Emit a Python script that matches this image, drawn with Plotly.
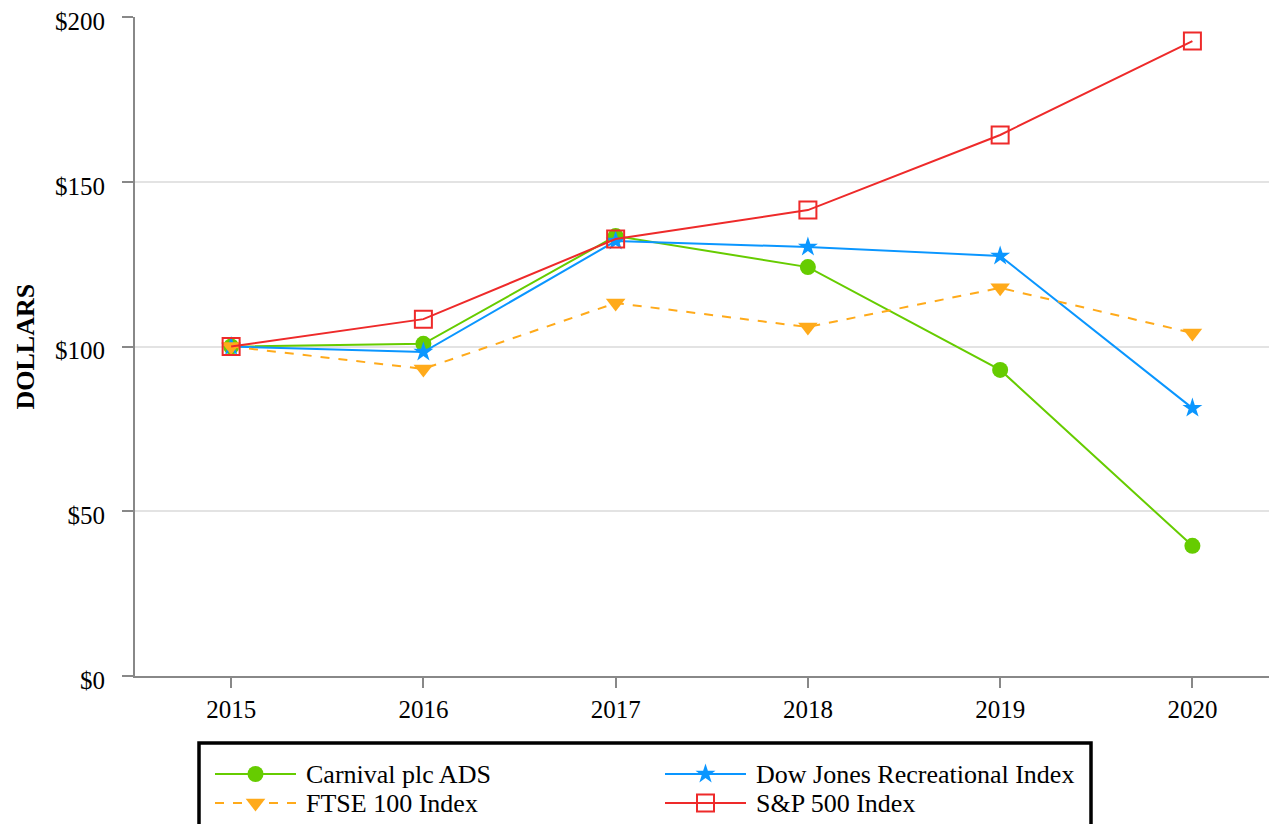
import plotly.graph_objects as go

years = ["2015", "2016", "2017", "2018", "2019", "2020"]
carnival = [100, 100.8, 133.5, 124.1, 92.9, 39.5]
dow_jones = [100, 98.3, 132.0, 130.2, 127.5, 81.3]
ftse = [100, 93.2, 113.2, 105.9, 117.8, 104.1]
sp500 = [100, 108.3, 132.6, 141.4, 164.2, 192.7]
series_names = ["Carnival plc ADS", "Dow Jones Recreational Index", "FTSE 100 Index", "S&P 500 Index"]
y_ticks = [0, 50, 100, 150, 200]
y_tick_labels = ["$0", "$50", "$100", "$150", "$200"]

FONT = "Liberation Serif, Times New Roman, serif"
# the page body adds an 8px offset; figure coords = screen coords - 8
OFF = 8
W, H = 1277 - OFF, 824 - OFF
L, T = 135 - OFF, 17 - OFF
PLOT_BOTTOM = 676 - OFF
y_dom_bottom = (H - PLOT_BOTTOM) / (H - T)

styles = [
    dict(color="#66CC00", dash="solid", symbol="circle", size=16),
    dict(color="#0A96FF", dash="solid", symbol="star", size=15),
    dict(color="#FFAA1A", dash="dash", symbol="triangle-down", size=17),
    dict(color="#EE2A2A", dash="solid", symbol="square-open", size=17),
]
values = [carnival, dow_jones, ftse, sp500]

fig = go.Figure()
for name, vals, st in zip(series_names, values, styles):
    fig.add_trace(go.Scatter(
        x=years, y=vals, name=name, mode="lines+markers", showlegend=False,
        line=dict(color=st["color"], width=2, dash=st["dash"]),
        marker=dict(symbol=st["symbol"], size=st["size"], color=st["color"],
                    line=dict(width=2 if st["symbol"] == "square-open" else 0, color=st["color"])),
        xaxis="x", yaxis="y"))

# ---- manual legend (pixel-coordinate overlay axes) ----
leg_left, leg_top, leg_right = 199 - OFF, 743 - OFF, 1091 - OFF
col_x = [215 - OFF, 665 - OFF]
row_y = [774 - OFF, 803 - OFF]
sample_len = 81
leg_pos = [(col_x[0], row_y[0]), (col_x[1], row_y[0]), (col_x[0], row_y[1]), (col_x[1], row_y[1])]

shapes = [dict(type="rect", xref="x2", yref="y2", x0=leg_left, x1=leg_right, y0=leg_top, y1=H + 40,
               line=dict(color="black", width=3.5), fillcolor="rgba(0,0,0,0)")]
annotations = []
for name, st, (lx, ly) in zip(series_names, styles, leg_pos):
    shapes.append(dict(type="line", xref="x2", yref="y2", x0=lx, x1=lx + sample_len, y0=ly, y1=ly,
                       line=dict(color=st["color"], width=2, dash=st["dash"])))
    fig.add_trace(go.Scatter(
        x=[lx + sample_len / 2], y=[ly], mode="markers", showlegend=False, hoverinfo="skip",
        marker=dict(symbol=st["symbol"], size=st["size"], color=st["color"],
                    line=dict(width=2 if st["symbol"] == "square-open" else 0, color=st["color"])),
        xaxis="x2", yaxis="y2"))
    annotations.append(dict(xref="x2", yref="y2", x=lx + sample_len + 8, y=ly, text=name,
                            showarrow=False, xanchor="left", yanchor="middle",
                            font=dict(family=FONT, size=26, color="black")))

annotations.append(dict(xref="paper", yref="y domain", x=(25 - OFF - L) / (W - L), y=0.5,
                        text="<b>DOLLARS</b>", textangle=-90, showarrow=False,
                        xanchor="center", yanchor="middle",
                        font=dict(family=FONT, size=26, color="black")))

fig.update_layout(
    width=W, height=H,
    margin=dict(l=L, r=0, t=T, b=0, autoexpand=False),
    paper_bgcolor="white", plot_bgcolor="white",
    font=dict(family=FONT, size=25, color="black"),
    showlegend=False,
    xaxis=dict(type="category", range=[-0.5, 5.44], domain=[0, 1], anchor="y",
               showgrid=False, automargin=False,
               showline=True, linecolor="#888888", linewidth=2,
               ticks="outside", ticklen=10, tickcolor="#888888", tickwidth=2,
               tickfont=dict(family=FONT, size=25), zeroline=False),
    yaxis=dict(range=[0, 200], domain=[y_dom_bottom, 1], anchor="x",
               tickvals=y_ticks, ticktext=y_tick_labels, automargin=False,
               ticklabeloverflow="allow", ticklabelshift=4,
               showgrid=True, gridcolor="#E3E3E3", gridwidth=1.5,
               showline=True, linecolor="#888888", linewidth=2,
               ticks="outside", ticklen=11, tickcolor="#888888", tickwidth=2,
               ticklabelstandoff=12,
               tickfont=dict(family=FONT, size=25), zeroline=False),
    xaxis2=dict(domain=[0, 1], range=[L, W], anchor="y2", visible=False, fixedrange=True),
    yaxis2=dict(domain=[0, y_dom_bottom], range=[H, PLOT_BOTTOM], anchor="x2", visible=False, fixedrange=True),
    shapes=shapes,
    annotations=annotations,
)

fig.write_html("out.html")
